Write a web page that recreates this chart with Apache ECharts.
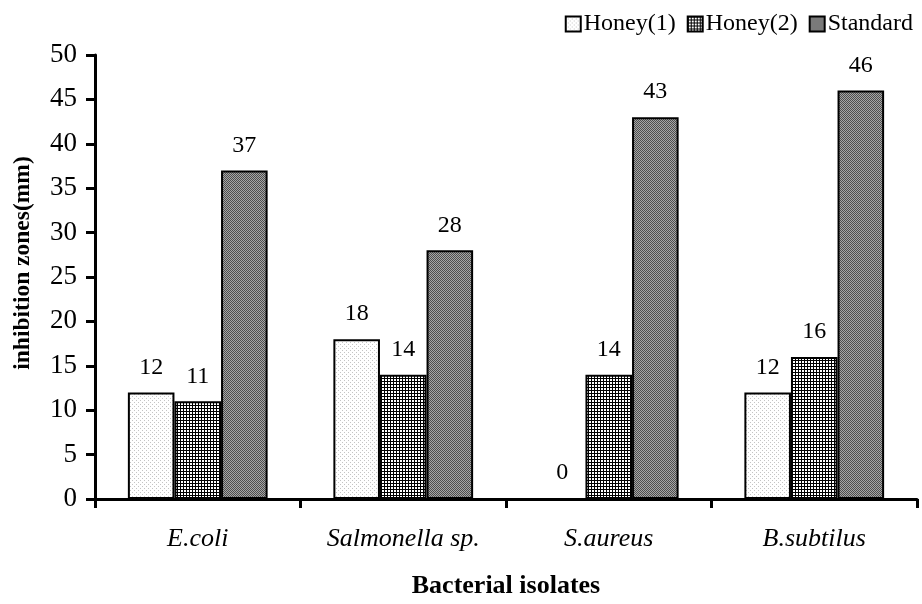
<!DOCTYPE html>
<html>
<head>
<meta charset="utf-8">
<script src="https://cdn.jsdelivr.net/npm/echarts@6/dist/echarts.min.js"></script>
<style>
  html, body { margin: 0; padding: 0; background: #fff; }
  #chart { width: 922px; height: 604px; }
</style>
</head>
<body>
<div id="chart"></div>
<script>
const FONT = '"Liberation Serif", "DejaVu Serif", serif'

const categories = ['E.coli', 'Salmonella sp.', 'S.aureus', 'B.subtilus']
const honey1 = [12, 18, 0, 12]
const honey2 = [11, 14, 14, 16]
const standard = [37, 28, 43, 46]
const yTicks = [0, 5, 10, 15, 20, 25, 30, 35, 40, 45, 50]

// small bitmap fills that imitate the print-style hatching
function pattern (size, draw) {
  const c = document.createElement('canvas')
  c.width = size
  c.height = size
  const ctx = c.getContext('2d')
  draw(ctx)
  return { image: c, repeat: 'repeat' }
}

const dots = pattern(4, ctx => {
  ctx.fillStyle = '#fff'
  ctx.fillRect(0, 0, 4, 4)
  ctx.fillStyle = '#c4c4c4'
  ctx.fillRect(0, 0, 1, 1)
  ctx.fillRect(2, 2, 1, 1)
})
const grid = pattern(3, ctx => {
  ctx.fillStyle = '#fff'
  ctx.fillRect(0, 0, 3, 3)
  ctx.fillStyle = '#000'
  ctx.fillRect(0, 0, 3, 1)
  ctx.fillRect(0, 0, 1, 3)
})
const checker = pattern(2, ctx => {
  ctx.fillStyle = '#a6a6a6'
  ctx.fillRect(0, 0, 2, 2)
  ctx.fillStyle = '#4e4e4e'
  ctx.fillRect(0, 0, 1, 1)
  ctx.fillRect(1, 1, 1, 1)
})

function barSeries (name, data, fill) {
  return {
    name,
    type: 'bar',
    data,
    barGap: '0%',
    barCategoryGap: '32%',
    itemStyle: { color: fill, borderColor: '#000', borderWidth: 2 },
    label: {
      show: true,
      position: 'top',
      distance: 13,
      color: '#000',
      fontFamily: FONT,
      fontSize: 24
    }
  }
}

const chart = echarts.init(document.getElementById('chart'), null, { renderer: 'canvas' })
chart.setOption({
  animation: false,
  backgroundColor: '#fff',
  textStyle: { fontFamily: FONT, color: '#000' },
  legend: {
    top: 7,
    right: 4,
    itemWidth: 15,
    itemHeight: 15,
    itemGap: 11,
    icon: 'rect',
    textStyle: { fontFamily: FONT, fontSize: 24, color: '#000', padding: [0, 0, 0, -2] },
    data: ['Honey(1)', 'Honey(2)', 'Standard']
  },
  grid: { left: 95, right: 5, top: 55, bottom: 99, containLabel: false },
  xAxis: {
    type: 'category',
    data: categories,
    name: 'Bacterial isolates',
    nameLocation: 'middle',
    nameGap: 74,
    nameTextStyle: { fontFamily: FONT, fontSize: 26, fontWeight: 'bold', color: '#000' },
    axisLine: { lineStyle: { color: '#000', width: 3 } },
    axisTick: { show: true, length: 9, lineStyle: { color: '#000', width: 3 } },
    axisLabel: { margin: 27, fontFamily: FONT, fontSize: 26, fontStyle: 'italic', color: '#000' }
  },
  yAxis: {
    type: 'value',
    min: yTicks[0],
    max: yTicks[yTicks.length - 1],
    interval: yTicks[1] - yTicks[0],
    name: 'inhibition zones(mm)',
    nameLocation: 'middle',
    nameGap: 60,
    nameTextStyle: {
      fontFamily: FONT,
      fontSize: 23.5,
      fontWeight: 'bold',
      color: '#000',
      padding: [0, 0, 0, 28]
    },
    axisLine: { show: true, lineStyle: { color: '#000', width: 3 } },
    axisTick: { show: true, length: 9, lineStyle: { color: '#000', width: 3 } },
    axisLabel: { margin: 18, fontFamily: FONT, fontSize: 27, color: '#000' },
    splitLine: { show: false }
  },
  series: [
    barSeries('Honey(1)', honey1, dots),
    barSeries('Honey(2)', honey2, grid),
    barSeries('Standard', standard, checker)
  ]
})
</script>
</body>
</html>
